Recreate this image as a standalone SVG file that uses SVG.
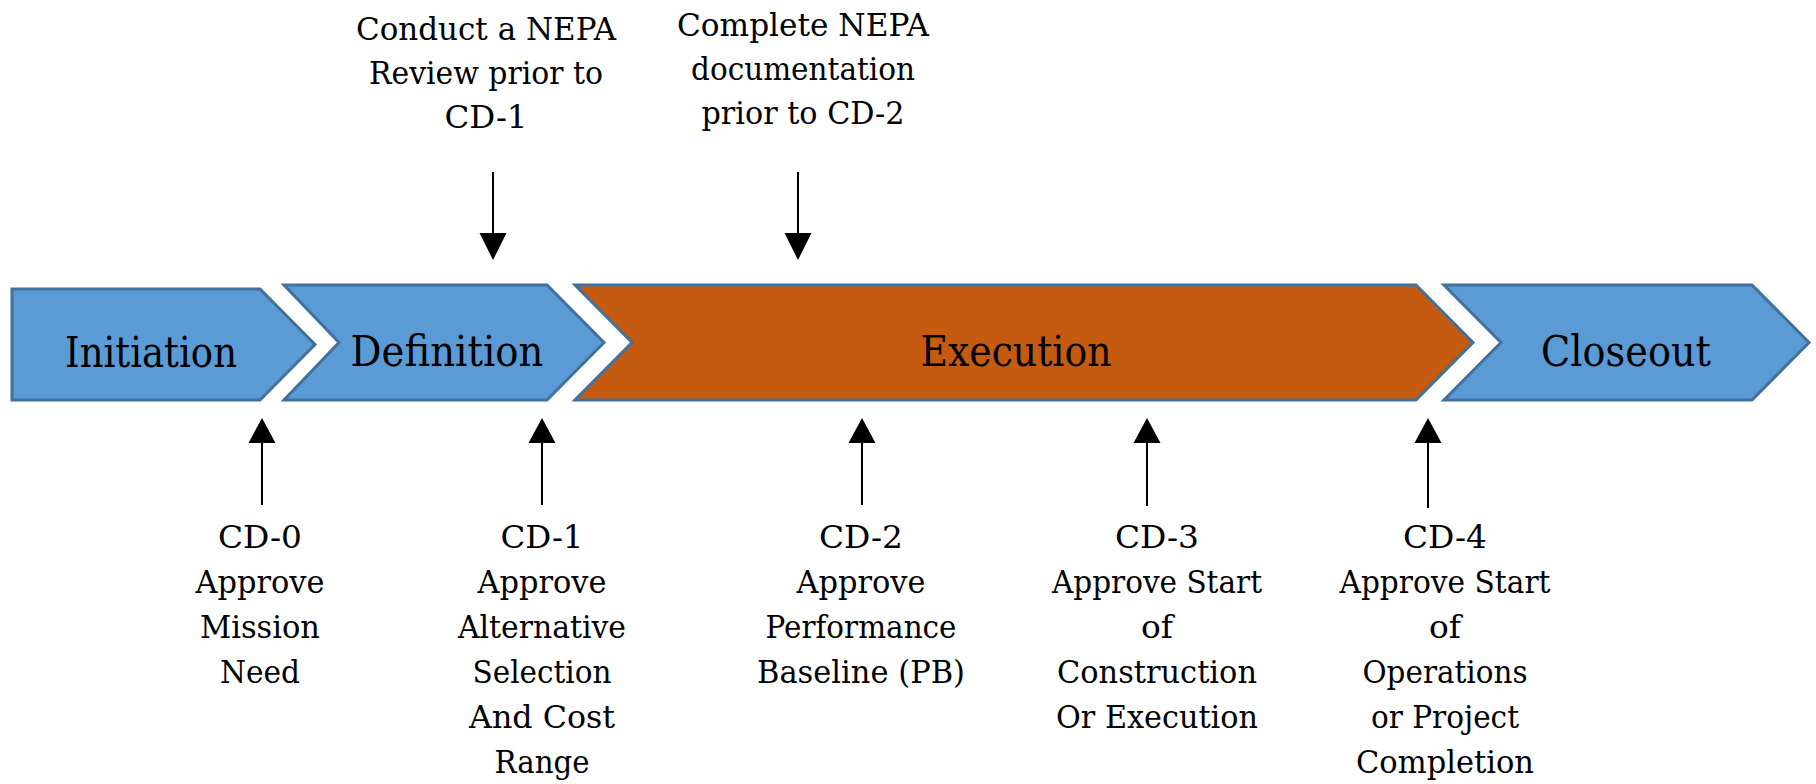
<svg xmlns="http://www.w3.org/2000/svg" width="1816" height="784" viewBox="0 0 1816 784">
  <style>
    .phase { stroke: #41719C; stroke-width: 3; stroke-linejoin: miter; }
    .blue { fill: #5B9BD5; }
    .orange { fill: #C55A11; }
    text { font-family: "DejaVu Serif", "Liberation Serif", serif; fill: #000; text-anchor: middle; }
    .big { font-size: 42px; }
    .lbl { font-size: 32.5px; }
    .stem { stroke: #000; stroke-width: 2; fill: none; }
    .head { fill: #000; }
  </style>
  <rect width="1816" height="784" fill="#FFFFFF"/>

  <!-- phase chevrons -->
  <g id="initiation">
    <polygon class="phase blue" points="12,289 260,289 315,344.5 260,400 12,400"/>
    <text class="big" x="151" y="367" textLength="172" lengthAdjust="spacingAndGlyphs">Initiation</text>
  </g>
  <g id="definition">
    <polygon class="phase blue" points="284,285 547,285 604,342.5 547,400 284,400 339,342.5"/>
    <text class="big" x="447" y="366" textLength="193" lengthAdjust="spacingAndGlyphs">Definition</text>
  </g>
  <g id="execution">
    <polygon class="phase orange" points="575,285 1416,285 1473,342.5 1416,400 575,400 632,342.5"/>
    <text class="big" x="1016" y="366" textLength="191" lengthAdjust="spacingAndGlyphs">Execution</text>
  </g>
  <g id="closeout">
    <polygon class="phase blue" points="1444,285 1752,285 1809,342.5 1752,400 1444,400 1501,342.5"/>
    <text class="big" x="1626" y="366" textLength="170" lengthAdjust="spacingAndGlyphs">Closeout</text>
  </g>

  <!-- NEPA notes above the timeline -->
  <g id="nepa-review">
    <text class="lbl" x="486" y="40" textLength="260" lengthAdjust="spacingAndGlyphs">Conduct a NEPA</text>
    <text class="lbl" x="486" y="84" textLength="234" lengthAdjust="spacingAndGlyphs">Review prior to</text>
    <text class="lbl" x="486" y="128" textLength="83" lengthAdjust="spacingAndGlyphs">CD-1</text>
  </g>
  <g id="nepa-docs">
    <text class="lbl" x="803" y="36" textLength="252" lengthAdjust="spacingAndGlyphs">Complete NEPA</text>
    <text class="lbl" x="803" y="80" textLength="224" lengthAdjust="spacingAndGlyphs">documentation</text>
    <text class="lbl" x="803" y="124" textLength="203" lengthAdjust="spacingAndGlyphs">prior to CD-2</text>
  </g>

  <!-- critical decision milestones -->
  <g id="cd0">
    <text class="lbl" x="260" y="548" textLength="84" lengthAdjust="spacingAndGlyphs">CD-0</text>
    <text class="lbl" x="260" y="593" textLength="129" lengthAdjust="spacingAndGlyphs">Approve</text>
    <text class="lbl" x="260" y="638" textLength="120" lengthAdjust="spacingAndGlyphs">Mission</text>
    <text class="lbl" x="260" y="683" textLength="80" lengthAdjust="spacingAndGlyphs">Need</text>
  </g>
  <g id="cd1">
    <text class="lbl" x="542" y="548" textLength="83" lengthAdjust="spacingAndGlyphs">CD-1</text>
    <text class="lbl" x="542" y="593" textLength="129" lengthAdjust="spacingAndGlyphs">Approve</text>
    <text class="lbl" x="542" y="638" textLength="168" lengthAdjust="spacingAndGlyphs">Alternative</text>
    <text class="lbl" x="542" y="683" textLength="139" lengthAdjust="spacingAndGlyphs">Selection</text>
    <text class="lbl" x="542" y="728" textLength="146" lengthAdjust="spacingAndGlyphs">And Cost</text>
    <text class="lbl" x="542" y="773" textLength="95" lengthAdjust="spacingAndGlyphs">Range</text>
  </g>
  <g id="cd2">
    <text class="lbl" x="861" y="548" textLength="84" lengthAdjust="spacingAndGlyphs">CD-2</text>
    <text class="lbl" x="861" y="593" textLength="129" lengthAdjust="spacingAndGlyphs">Approve</text>
    <text class="lbl" x="861" y="638" textLength="191" lengthAdjust="spacingAndGlyphs">Performance</text>
    <text class="lbl" x="861" y="683" textLength="208" lengthAdjust="spacingAndGlyphs">Baseline (PB)</text>
  </g>
  <g id="cd3">
    <text class="lbl" x="1157" y="548" textLength="84" lengthAdjust="spacingAndGlyphs">CD-3</text>
    <text class="lbl" x="1157" y="593" textLength="210" lengthAdjust="spacingAndGlyphs">Approve Start</text>
    <text class="lbl" x="1157" y="638" textLength="32" lengthAdjust="spacingAndGlyphs">of</text>
    <text class="lbl" x="1157" y="683" textLength="200" lengthAdjust="spacingAndGlyphs">Construction</text>
    <text class="lbl" x="1157" y="728" textLength="202" lengthAdjust="spacingAndGlyphs">Or Execution</text>
  </g>
  <g id="cd4">
    <text class="lbl" x="1445" y="548" textLength="84" lengthAdjust="spacingAndGlyphs">CD-4</text>
    <text class="lbl" x="1445" y="593" textLength="211" lengthAdjust="spacingAndGlyphs">Approve Start</text>
    <text class="lbl" x="1445" y="638" textLength="32" lengthAdjust="spacingAndGlyphs">of</text>
    <text class="lbl" x="1445" y="683" textLength="165" lengthAdjust="spacingAndGlyphs">Operations</text>
    <text class="lbl" x="1445" y="728" textLength="148" lengthAdjust="spacingAndGlyphs">or Project</text>
    <text class="lbl" x="1445" y="773" textLength="178" lengthAdjust="spacingAndGlyphs">Completion</text>
  </g>

  <!-- connectors -->
  <g id="connectors">
    <!-- down arrows from NEPA notes -->
    <line class="stem" x1="493" y1="172" x2="493" y2="236"/>
    <polygon class="head" points="479.5,233 506.5,233 493,260"/>
    <line class="stem" x1="798" y1="172" x2="798" y2="236"/>
    <polygon class="head" points="784.5,233 811.5,233 798,260"/>
    <!-- up arrows to milestones -->
    <line class="stem" x1="262" y1="440" x2="262" y2="505"/>
    <polygon class="head" points="248.5,443 275.5,443 262,418"/>
    <line class="stem" x1="542" y1="440" x2="542" y2="505"/>
    <polygon class="head" points="528.5,443 555.5,443 542,418"/>
    <line class="stem" x1="862" y1="440" x2="862" y2="505"/>
    <polygon class="head" points="848.5,443 875.5,443 862,418"/>
    <line class="stem" x1="1147" y1="440" x2="1147" y2="506"/>
    <polygon class="head" points="1133.5,443 1160.5,443 1147,418"/>
    <line class="stem" x1="1428" y1="440" x2="1428" y2="508"/>
    <polygon class="head" points="1414.5,443 1441.5,443 1428,418"/>
  </g>
</svg>
